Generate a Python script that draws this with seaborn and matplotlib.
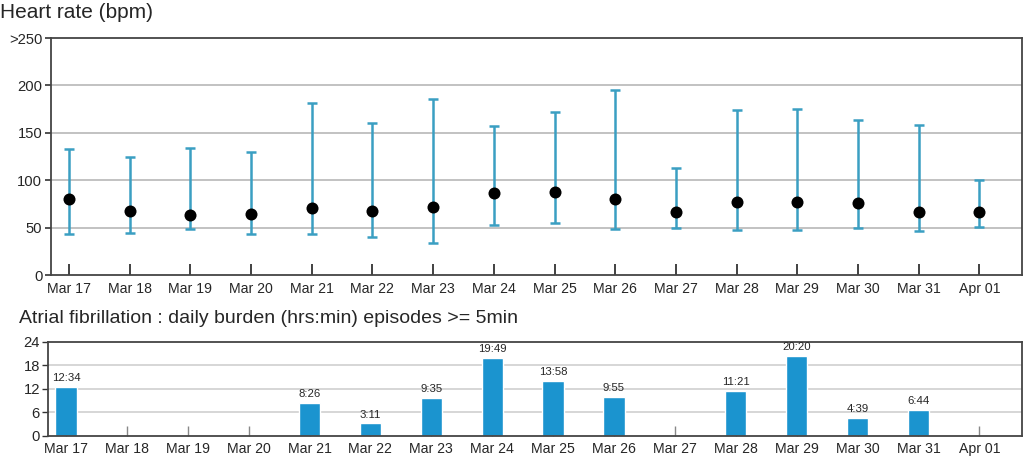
import matplotlib
matplotlib.use("Agg")
import matplotlib.pyplot as plt
import pandas as pd
import seaborn as sns

# ---------------------------
# data
# ---------------------------

days = ["Mar 17", "Mar 18", "Mar 19", "Mar 20", "Mar 21", "Mar 22", "Mar 23", "Mar 24",
        "Mar 25", "Mar 26", "Mar 27", "Mar 28", "Mar 29", "Mar 30", "Mar 31", "Apr 01"]

hr_mean = [80, 68, 63, 64, 71, 68, 72, 86, 88, 80, 67, 77, 77, 76, 67, 66]
hr_min = [43, 44, 49, 43, 43, 40, 34, 53, 55, 49, 50, 47, 47, 50, 46, 51]
hr_max = [133, 125, 134, 130, 181, 160, 186, 157, 172, 195, 113, 174, 175, 164, 158, 100]

af_labels = ["12:34", "", "", "", "8:26", "3:11", "9:35", "19:49",
             "13:58", "9:55", "", "11:21", "20:20", "4:39", "6:44", ""]

hr_ticks = [0, 50, 100, 150, 200, 250]
hr_ticklabels = ["0", "50", "100", "150", "200", ">250"]
af_ticks = [0, 6, 12, 18, 24]


def to_hours(s):
    if not s:
        return 0.0
    h, m = s.split(":")
    return int(h) + int(m) / 60


af_hours = [to_hours(s) for s in af_labels]

df_hr = pd.DataFrame({"pos": range(len(days)), "day": days,
                      "mean": hr_mean, "lo": hr_min, "hi": hr_max})
df_af = pd.DataFrame({"pos": range(len(days)), "day": days, "hours": af_hours})

# ---------------------------
# style
# ---------------------------

sns.set_style("white")
plt.rcParams["font.family"] = ["Liberation Sans", "DejaVu Sans"]

ERR_COLOR = "#3a9fc2"
BAR_COLOR = "#1b94cf"
GRID = "#bdbdbd"
SPINE = "#444444"

fig = plt.figure(figsize=(10.24, 4.57), dpi=100)
ax1 = fig.add_axes([0.0495, 0.3982, 0.9485, 0.5186])
ax2 = fig.add_axes([0.0472, 0.0460, 0.9508, 0.2063])

# ---------------------------
# heart rate
# ---------------------------

for y in hr_ticks[1:-1]:
    ax1.axhline(y, color=GRID, lw=1.3, zorder=0)

ax1.errorbar(df_hr["pos"], df_hr["mean"],
             yerr=[df_hr["mean"] - df_hr["lo"], df_hr["hi"] - df_hr["mean"]],
             fmt="none", ecolor=ERR_COLOR, elinewidth=1.8, capsize=3.3,
             capthick=1.8, zorder=2)

sns.scatterplot(data=df_hr, x="pos", y="mean", ax=ax1, color="black",
                s=75, edgecolor="black", linewidth=0, zorder=3, legend=False)

ax1.set_xlim(-0.30, 15.70)
ax1.set_ylim(0, 250)
ax1.set_xticks(range(len(days)))
ax1.set_xticklabels(days)
ax1.set_yticks(hr_ticks)
ax1.set_yticklabels(hr_ticklabels)
ax1.set_xlabel("")
ax1.set_ylabel("")
ax1.tick_params(axis="x", bottom=True, direction="in", length=8, width=1.3,
                color="#333333", labelsize=10.2, pad=5)
ax1.tick_params(axis="y", left=True, direction="out", length=4, width=1.2,
                color="#333333", labelsize=10.6, pad=2)
for sp in ax1.spines.values():
    sp.set_color(SPINE)
    sp.set_linewidth(1.3)

# ---------------------------
# atrial fibrillation
# ---------------------------

for y in af_ticks[1:-1]:
    ax2.axhline(y, color="#d0d0d0", lw=1.2, zorder=0)

sns.barplot(data=df_af, x="pos", y="hours", ax=ax2, color=BAR_COLOR,
            width=0.35, saturation=1, native_scale=True, zorder=2)

for p, h, lab in zip(df_af["pos"], df_af["hours"], af_labels):
    if lab:
        ax2.text(p, h + 1.0, lab, ha="center", va="bottom", fontsize=8.2)

ax2.set_xlim(-0.29, 15.70)
ax2.set_ylim(0, 24)
ax2.set_xticks(range(len(days)))
ax2.set_xticklabels(days)
ax2.set_yticks(af_ticks)
ax2.set_xlabel("")
ax2.set_ylabel("")
ax2.tick_params(axis="x", bottom=True, direction="in", length=7, width=1.0,
                color="#888888", labelsize=10.2, pad=4)
ax2.tick_params(axis="y", left=True, direction="out", length=4, width=1.0,
                color="#333333", labelsize=10.6, pad=2)
for sp in ax2.spines.values():
    sp.set_color(SPINE)
    sp.set_linewidth(1.3)

# ---------------------------
# titles
# ---------------------------

fig.text(0.0, 0.972, "Heart rate (bpm)", fontsize=15, va="center", ha="left")
fig.text(0.0186, 0.304, "Atrial fibrillation : daily burden (hrs:min) episodes >= 5min",
         fontsize=14, va="center", ha="left")

fig.savefig("out.png", dpi=100)
